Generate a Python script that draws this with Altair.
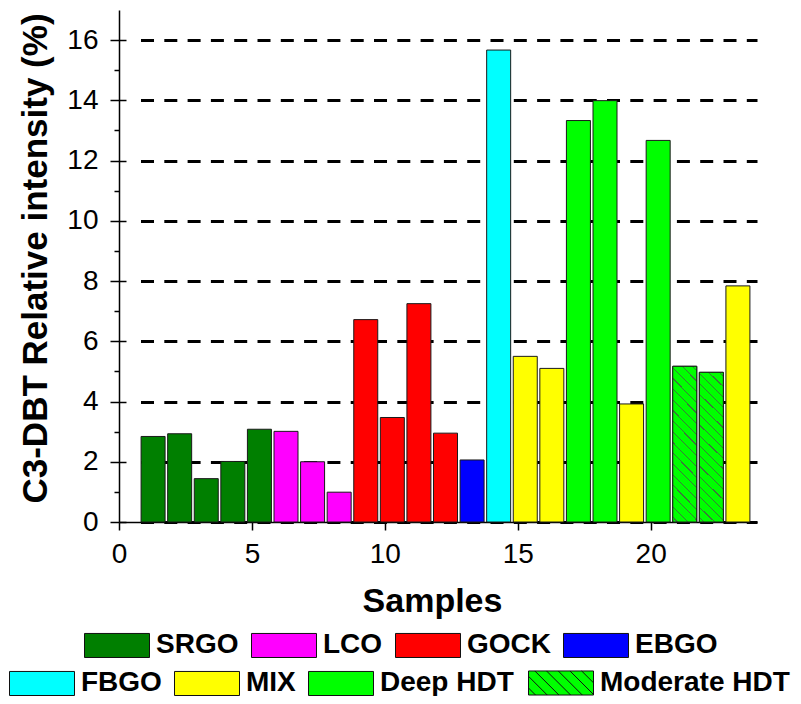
import altair as alt
import pandas as pd

# ---------------- data ----------------
samples = list(range(1, 24))
values = [2.84, 2.93, 1.44, 2.01, 3.08, 3.01, 2.00, 0.99, 6.72, 3.47, 7.25, 2.95,
          2.06, 15.67, 5.50, 5.10, 13.33, 13.99, 3.92, 12.67, 5.17, 4.97, 7.84]
groups = (["SRGO"] * 5 + ["LCO"] * 3 + ["GOCK"] * 4 + ["EBGO"] + ["FBGO"]
          + ["MIX"] * 2 + ["Deep HDT"] * 2 + ["MIX"] + ["Deep HDT"]
          + ["Moderate HDT"] * 2 + ["MIX"])

row1_names = ["SRGO", "LCO", "GOCK", "EBGO"]
row1_colors = ["#007f00", "#ff00ff", "#ff0000", "#0000ff"]
row2_names = ["FBGO", "MIX", "Deep HDT"]
row2_colors = ["#00ffff", "#ffff00", "#00ff00"]
hatch_names = ["Moderate HDT"]
hatch_colors = ["#00ff00"]

x_ticks = [0, 5, 10, 15, 20]
y_major = [0, 2, 4, 6, 8, 10, 12, 14, 16]
y_minor = [1, 3, 5, 7, 9, 11, 13, 15]

df = pd.DataFrame({"Sample": samples, "Value": values, "Group": groups})

FONT = "Liberation Sans"


def hatch(w, h, period, lw, bg="#00ff00", fg="#3a7a3a"):
    """Diagonal hatch (top-left -> bottom-right) as a hard-stop linear gradient."""
    span = w + h
    k = (w * w + h * h) / span
    stops = [{"offset": 0, "color": bg}]
    pos = period * 0.4
    while pos + lw < span:
        a = pos / span
        b = (pos + lw) / span
        stops += [{"offset": a, "color": bg}, {"offset": a, "color": fg},
                  {"offset": b, "color": fg}, {"offset": b, "color": bg}]
        pos += period
    stops.append({"offset": 1, "color": bg})
    return {"gradient": "linear", "x1": 0, "y1": 1, "x2": w / k, "y2": 1 - h / k,
            "stops": stops}


def hatch_symbol(hh=0.37, step=0.36):
    """Rectangle symbol path with diagonal hatch lines (unit coordinates)."""
    parts = ["M-1,%.3fH1V%.3fH-1Z" % (-hh, hh)]
    c = -1 - hh + step * 0.6
    while c < 1 + hh:
        xa = max(-1.0, c - hh)
        xb = min(1.0, c + hh)
        if xb - xa > 0.02:
            parts.append("M%.3f,%.3fL%.3f,%.3f" % (xa, xa - c, xb, xb - c))
        c += step
    return "".join(parts)


bar_hatch = hatch(24, 153, 10.5, 1.2)
RECT = "M-1,-0.37H1V0.37H-1Z"

x_scale = alt.Scale(domain=[0, 24], nice=False, zero=False, padding=0)
y_scale = alt.Scale(domain=[0, 17], nice=False)

grid_dash = [0.01, 21.5] + [13, 10.3] * 30

bar_kw = dict(size=24, xOffset=7.5, stroke="#1a1a1a", strokeWidth=1)

leg_common = dict(
    orient="none", direction="horizontal", title=None, symbolSize=4225,
    symbolStrokeColor="#111111", symbolStrokeWidth=1, symbolOpacity=1,
    labelFont=FONT, labelFontWeight="bold", labelFontSize=28, labelColor="black",
    labelOffset=6, columnPadding=10, labelLimit=400, padding=0,
)

main_x = alt.X(
    "Sample:Q", scale=x_scale,
    axis=alt.Axis(values=x_ticks, title="Samples", format="d",
                  tickSize=8, tickColor="black", tickWidth=1.5,
                  domainColor="black", domainWidth=1.5,
                  labelFont=FONT, labelFontSize=28, labelColor="black",
                  labelPadding=10, labelFlush=False,
                  titleFont=FONT, titleFontSize=34, titleFontWeight="bold",
                  titleColor="black", titlePadding=16, titleX=313, grid=False),
)
main_y = alt.Y(
    "Value:Q", scale=y_scale,
    axis=alt.Axis(values=y_major, title="C3-DBT Relative intensity (%)", format="d",
                  orient="left",
                  tickSize=9, tickColor="black", tickWidth=1.5,
                  domainColor="black", domainWidth=1.5,
                  labelFont=FONT, labelFontSize=28, labelColor="black",
                  labelPadding=12, labelFlush=False,
                  grid=True, gridColor="black", gridWidth=3, gridDash=grid_dash,
                  titleFont=FONT, titleFontSize=35, titleFontWeight="bold",
                  titleColor="black", titlePadding=13, titleY=248),
)

no_x = alt.X("Sample:Q", scale=x_scale, axis=None)

layer_a = alt.Chart(df).transform_filter(
    alt.FieldOneOfPredicate(field="Group", oneOf=row1_names)
).mark_bar(**bar_kw).encode(
    x=main_x,
    y=main_y,
    color=alt.Color("Group:N",
                    scale=alt.Scale(domain=row1_names, range=row1_colors),
                    legend=alt.Legend(legendX=-35, legendY=602, symbolType=RECT,
                                      **leg_common)),
)

layer_b = alt.Chart(df).transform_filter(
    alt.FieldOneOfPredicate(field="Group", oneOf=row2_names)
).mark_bar(**bar_kw).encode(
    x=no_x,
    y=alt.Y("Value:Q", scale=y_scale,
            axis=alt.Axis(orient="left", values=y_minor, tickSize=5,
                          tickColor="black", tickWidth=1.5, labels=False,
                          domain=False, grid=False, title=None)),
    color=alt.Color("Group:N",
                    scale=alt.Scale(domain=row2_names, range=row2_colors),
                    legend=alt.Legend(legendX=-110, legendY=640, symbolType=RECT,
                                      **leg_common)),
)

layer_d = alt.Chart(df).transform_filter(
    alt.FieldOneOfPredicate(field="Group", oneOf=hatch_names)
).mark_bar(**bar_kw).encode(
    x=no_x,
    y=alt.Y("Value:Q", scale=y_scale, axis=None),
    color=alt.Color("Group:N",
                    scale=alt.Scale(domain=hatch_names, range=hatch_colors),
                    legend=alt.Legend(legendX=409, legendY=640,
                                      symbolType=hatch_symbol(), **leg_common)),
)

layer_c = alt.Chart(df).transform_filter(
    alt.FieldOneOfPredicate(field="Group", oneOf=hatch_names)
).mark_bar(fill=bar_hatch, **bar_kw).encode(
    x=no_x,
    y=alt.Y("Value:Q", scale=y_scale,
            axis=alt.Axis(orient="left", values=y_major, tickSize=7, offset=-7,
                          tickColor="black", tickWidth=1.5, labels=False,
                          domain=False, grid=False, title=None)),
)

chart = alt.layer(layer_a, layer_b, layer_d, layer_c).resolve_scale(
    color="independent"
).resolve_axis(
    x="independent", y="independent"
).properties(
    width=638, height=512,
    autosize=alt.AutoSizeParams(type="none"),
    padding={"left": 111, "top": 2, "right": 36, "bottom": 174},
    background="white",
).configure_view(stroke=None)

chart.save("out.html", embed_options={"renderer": "svg", "actions": False})
